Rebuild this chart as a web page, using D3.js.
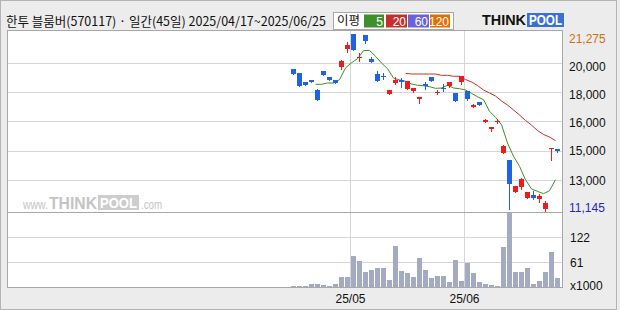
<!DOCTYPE html>
<html><head><meta charset="utf-8">
<script src="https://cdnjs.cloudflare.com/ajax/libs/d3/7.8.5/d3.min.js"></script>
<style>
html,body{margin:0;padding:0;background:#ececec;}
svg{display:block;}
</style></head>
<body>
<svg id="c" width="620" height="310"></svg>
<script>
// ---------- DATA ----------
const title = "한투 블룸버(570117) · 일간(45일) 2025/04/17~2025/06/25";
const dates = ["04/17","04/18","04/21","04/22","04/23","04/24","04/25","04/28","04/29","04/30",
  "05/02","05/07","05/08","05/09","05/12","05/13","05/14","05/15","05/16","05/19","05/20","05/21","05/22","05/23",
  "05/26","05/27","05/28","05/29","05/30",
  "06/02","06/04","06/05","06/09","06/10","06/11","06/12","06/13","06/16","06/17","06/18","06/19","06/20","06/23","06/24","06/25"];
const open  = [19270,19045,18530,18645,18070,19155,18815,18645,19385,20415,21275,19900,21240,19845,18985,18880,17860,18470,18645,18145,18015,17570,18415,18815,17940,18185,18315,17900,18530,18015,17115,17385,16240,15840,16240,14480,14065,12230,12520,11890,12060,11830,11260,14695,14695];
const high  = [19270,19045,18530,18645,18145,19155,18815,18645,19805,20815,21275,20185,21240,19960,19175,19050,18070,18815,18755,18585,18185,17670,18530,18815,18070,18415,18530,17900,18870,18015,17270,17385,16410,15950,16410,14940,14065,12575,13035,12230,12290,12120,11715,14750,14695];
const low   = [19005,18315,18375,18530,17515,18930,18645,18470,19290,20245,20375,19730,20760,19690,18605,18715,17860,18415,18260,18145,17955,17325,18125,18605,17840,17995,18260,17460,18415,17500,17095,17230,16220,15725,16180,14480,11275,12230,12405,11890,11830,11660,11145,14080,14520];
const close = [19005,18315,18375,18530,17515,18930,18645,18470,19730,20645,20375,19960,20890,19690,18605,18860,18070,18645,18545,18585,18185,17670,18300,18605,17960,18125,18530,17460,18870,17570,17210,17230,16355,15950,16295,14865,12705,12575,12975,12230,11890,12005,11605,14750,14580];
const volume = [2,2,2,8,8,5,2,8,25,25,76,64,37,42,47,47,18,101,40,35,25,71,42,23,28,28,13,67,15,59,35,13,8,5,2,98,180,37,37,47,8,15,37,86,23];
// moving averages (null = not drawn)
const ma5  = [null,null,null,null,18395,18395,18470,18470,18660,19330,19630,19860,20320,20340,20000,19615,19290,18755,18645,18570,18415,18340,18315,18260,18165,18185,18340,18185,18145,18070,17880,17685,17515,16850,16510,16085,15035,14275,13705,12935,12405,12270,12135,12305,12935];
const ma20 = [null,null,null,null,null,null,null,null,null,null,null,null,null,null,null,null,null,null,null,19025,18985,18985,18985,18985,18985,18910,18910,18855,18855,18670,18530,18325,18070,17900,17725,17440,17210,16925,16640,16325,16065,15750,15525,15380,15170];
const priceMax = 21275, priceMin = 11145;
const priceGridValues = [19615,17955,16295,14580,12920];
const priceTickValues = [19385,17815,16210,14580,12900];
const priceTickLabels = ["20,000","18,000","16,000","15,000","13,000"];
const volMax = 183;
const volTickValues = [122,61];
const volTickLabels = ["122","61"];
const monthTicks = [{i:10,label:"25/05"},{i:29,label:"25/06"}];
const legendTitle = "이평";
const legendItems = [{label:"5",color:"#3f8f2a"},{label:"20",color:"#c4302b"},{label:"60",color:"#6a62d8"},{label:"120",color:"#e07000"}];

// ---------- DRAW ----------
const svg = d3.select("#c");
const n = open.length;
const idx = d3.range(n);
const X0 = 7.5, X1 = 562.5, PT = 30.5, PB = 212.5, VB = 287.5;
const UP = "#f01c1c", DOWN = "#1f62e4";

const x = d3.scaleBand().domain(idx).range([290.5, 560.5]).paddingInner(1/6).paddingOuter(1/12);
const y = d3.scaleLinear().domain([priceMin, priceMax]).range([211, 34]);
const yv = d3.scaleLinear().domain([0, volMax]).range([287, 212]);

// background
svg.append("rect").attr("x",0).attr("y",0).attr("width",620).attr("height",310).attr("fill","#ececec");
svg.append("rect").attr("x",0.5).attr("y",0.5).attr("width",616).attr("height",309).attr("fill","none").attr("stroke","#b4b4b4");
svg.append("rect").attr("x",X0).attr("y",PT).attr("width",X1-X0).attr("height",VB-PT).attr("fill","#fff");

// grid
const g = svg.append("g");
g.selectAll("line.hp").data(priceGridValues).join("line")
  .attr("x1",X0).attr("x2",X1).attr("y1",d=>Math.round(y(d))+0.5).attr("y2",d=>Math.round(y(d))+0.5)
  .attr("stroke","#d6d6d6");
g.selectAll("line.hv").data(volTickValues).join("line")
  .attr("x1",X0).attr("x2",X1).attr("y1",d=>Math.round(yv(d))+0.5).attr("y2",d=>Math.round(yv(d))+0.5)
  .attr("stroke","#d6d6d6");
g.selectAll("line.vm").data(monthTicks).join("line")
  .attr("x1",d=>x(d.i)-0.5).attr("x2",d=>x(d.i)-0.5).attr("y1",PT).attr("y2",VB)
  .attr("stroke","#d6d6d6");

// watermark
const wm = svg.append("g").attr("fill","#c4c4c4").attr("font-family","Liberation Sans, Arial, sans-serif");
wm.append("text").attr("x",23).attr("y",209).attr("font-size",12).attr("textLength",25).attr("lengthAdjust","spacingAndGlyphs").text("www.");
wm.append("text").attr("x",49).attr("y",209).attr("font-size",16).attr("font-weight","bold").attr("textLength",48).attr("lengthAdjust","spacingAndGlyphs").text("THINK");
wm.append("rect").attr("x",98).attr("y",195).attr("width",41).attr("height",15).attr("fill","#cdcdcd");
wm.append("text").attr("x",100).attr("y",208).attr("font-size",14).attr("font-weight","bold").attr("fill","#fff").attr("textLength",37).attr("lengthAdjust","spacingAndGlyphs").text("POOL");
wm.append("text").attr("x",141).attr("y",209).attr("font-size",12).attr("textLength",21).attr("lengthAdjust","spacingAndGlyphs").text(".com");

// volume
svg.append("g").selectAll("rect").data(idx).join("rect")
  .attr("x",i=>x(i)).attr("width",x.bandwidth())
  .attr("y",i=>Math.round(yv(volume[i]))).attr("height",i=>287-Math.round(yv(volume[i])))
  .attr("fill","#a2abc3");

// MA lines
const line = d3.line().defined(d=>d.v!=null).x(d=>x(d.i)+0.5).y(d=>y(d.v));
svg.append("path").datum(idx.map(i=>({i,v:ma20[i]}))).attr("d",line).attr("fill","none").attr("stroke","#c4302b").attr("stroke-width",1);
svg.append("path").datum(idx.map(i=>({i,v:ma5[i]}))).attr("d",line).attr("fill","none").attr("stroke","#3f8f2a").attr("stroke-width",1);

// candles
const cg = svg.append("g").selectAll("g").data(idx).join("g");
cg.append("line")
  .attr("x1",i=>x(i)+2.5).attr("x2",i=>x(i)+2.5)
  .attr("y1",i=>Math.round(y(high[i]))).attr("y2",i=>Math.round(y(low[i]))+1)
  .attr("stroke",i=>close[i]>=open[i]?UP:DOWN);
cg.append("rect")
  .attr("x",i=>x(i)).attr("width",x.bandwidth())
  .attr("y",i=>Math.round(y(Math.max(open[i],close[i]))))
  .attr("height",i=>Math.max(1,Math.round(y(Math.min(open[i],close[i])))-Math.round(y(Math.max(open[i],close[i])))))
  .attr("fill",i=>close[i]>=open[i]?UP:DOWN);

// frame
svg.append("rect").attr("x",X0).attr("y",PT).attr("width",X1-X0).attr("height",VB-PT).attr("fill","none").attr("stroke","#a8a8a8");
svg.append("line").attr("x1",X0).attr("x2",X1).attr("y1",PB).attr("y2",PB).attr("stroke","#a8a8a8");

// right axis labels
const ax = svg.append("g").attr("font-family","Liberation Sans, Arial, sans-serif").attr("font-size",12);
ax.append("text").attr("x",569).attr("y",y(priceMax)+5).attr("dy","0.35em").attr("fill","#d4700c").text(d3.format(",")(priceMax));
ax.append("text").attr("x",569).attr("y",y(priceMin)-3).attr("dy","0.35em").attr("fill","#1a28c8").text(d3.format(",")(priceMin));
ax.selectAll("text.pt").data(priceTickValues).join("text")
  .attr("x",569).attr("y",d=>y(d)).attr("dy","0.35em").attr("fill","#111").text((d,k)=>priceTickLabels[k]);
ax.selectAll("text.vt").data(volTickValues).join("text")
  .attr("x",570).attr("y",d=>yv(d)+1).attr("dy","0.35em").attr("fill","#111").text((d,k)=>volTickLabels[k]);
ax.append("text").attr("x",570).attr("y",286).attr("dy","0.35em").attr("fill","#111").text("x1000");

// month labels
ax.selectAll("text.m").data(monthTicks).join("text")
  .attr("x",d=>x(d.i)-0.5).attr("y",299).attr("dy","0.35em").attr("text-anchor","middle").attr("fill","#111").text(d=>d.label);

// header
svg.append("text").attr("x",6).attr("y",26).attr("font-family","Noto Sans CJK KR, sans-serif").attr("font-size",12.6)
  .attr("textLength",320).attr("lengthAdjust","spacingAndGlyphs").attr("fill","#111").text(title);

// legend
const lg = svg.append("g");
lg.append("rect").attr("x",333.5).attr("y",12.5).attr("width",120).attr("height",17).attr("fill","#fff").attr("stroke","#a8a8a8");
lg.append("text").attr("x",337).attr("y",25).attr("font-family","Noto Sans CJK KR, sans-serif").attr("font-size",12)
  .attr("textLength",23).attr("lengthAdjust","spacingAndGlyphs").attr("fill","#111").text(legendTitle);
const lx = [364,386,408,430], lw=[20,21,21,20];
legendItems.forEach((d,k)=>{
  lg.append("rect").attr("x",lx[k]).attr("y",14.5).attr("width",lw[k]).attr("height",13).attr("fill",d.color);
  lg.append("text").attr("x",lx[k]+lw[k]-1).attr("y",25.5).attr("text-anchor","end")
    .attr("font-family","Liberation Sans, Arial, sans-serif").attr("font-size",12).attr("fill","#fff").text(d.label);
});

// logo
const lo = svg.append("g").attr("font-family","Liberation Sans, Arial, sans-serif").attr("font-weight","bold");
lo.append("text").attr("x",482).attr("y",25).attr("font-size",14).attr("fill","#111")
  .attr("textLength",44).attr("lengthAdjust","spacingAndGlyphs").text("THINK");
lo.append("rect").attr("x",527).attr("y",13).attr("width",37).attr("height",14).attr("fill","#3a6fd8");
lo.append("text").attr("x",529).attr("y",25).attr("font-size",14).attr("fill","#fff")
  .attr("textLength",33).attr("lengthAdjust","spacingAndGlyphs").text("POOL");
</script>
</body></html>
